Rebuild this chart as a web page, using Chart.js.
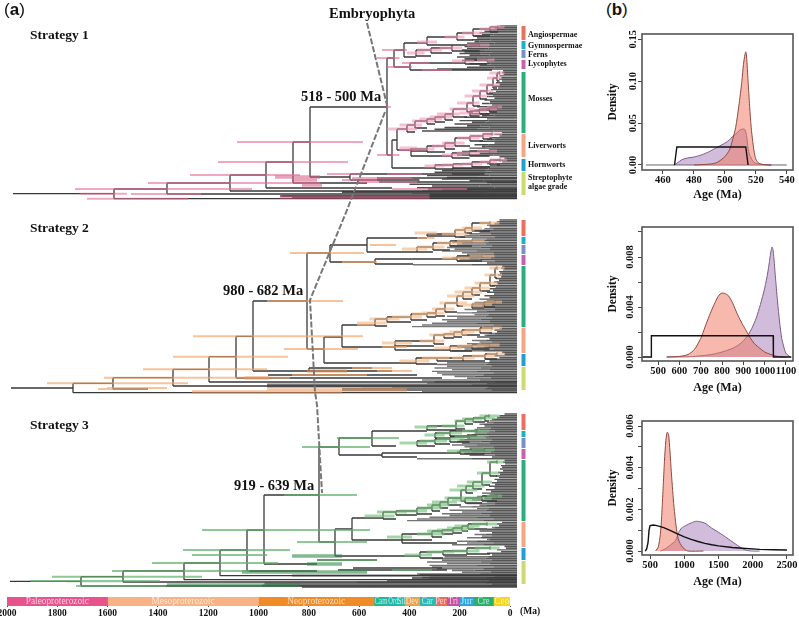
<!DOCTYPE html>
<html><head><meta charset="utf-8">
<script src="https://cdn.jsdelivr.net/npm/chart.js@4/dist/chart.umd.js"></script>
<style>
html,body{margin:0;padding:0;background:#fff;width:799px;height:617px;overflow:hidden}
canvas{position:absolute;display:block}
.t{position:absolute;font-family:"Liberation Serif",serif;font-weight:bold;color:#111;white-space:nowrap;line-height:1;transform:translateY(-50%)}
.p{font-family:"Liberation Sans",sans-serif;font-size:17px;font-weight:normal}
</style></head><body>
<canvas id="tree" style="left:0;top:0" width="600" height="617"></canvas>
<canvas id="geo" style="left:0;top:590px" width="540" height="27"></canvas>
<canvas id="d1" style="left:600px;top:20px" width="199" height="190"></canvas>
<canvas id="d2" style="left:600px;top:213px" width="199" height="190"></canvas>
<canvas id="d3" style="left:600px;top:407px" width="199" height="190"></canvas>
<div id="labels"></div>
<script>
// ---------- Geological time bar ----------
const geoNames=["Paleoproterozoic","Mesoproterozoic","Neoproterozoic","Cam","Ord","Sil","Dev","Car","Per","Tri","Jur","Cre","Ceo"];
const geoOld=[2000,1600,1000,541,485,444,419,359,299,252,201,145,66];
const geoYoung=[1600,1000,541,485,444,419,359,299,252,201,145,66,0];
const geoColors=["#E8538E","#F8B283","#F08C28","#22B69A","#1FB5A8","#2CBDA8","#E9A24E","#2DB7B5","#EA6C5C","#C8509F","#2BA4E0","#2BAF6C","#F5D328"];
const geoTextWidth=[63,63,58,13,10,8,13,11,11,10,12,12,15];
const geoTicks=[0,200,400,600,800,1000,1200,1400,1600,1800,2000];

// ---------- Tree tips: age (Ma) where each tip row's terminal branch begins ----------
const tips1=[70,90,110,130,150,140,170,160,180,170,200,190,210,200,220,210,230,190,240,210,220,120,190,150,200,320,
56,60,54,70,64,72,60,84,70,92,76,104,84,112,96,120,90,130,108,140,100,160,124,170,110,190,140,210,120,230,180,250,200,290,330,380,
60,90,70,110,120,150,90,170,140,190,110,220,150,240,
70,50,90,60,120,80,180,
260,300,330,260,360,280,300,190,120,430,340,400,300,380,420,350,500];
const tips2=[70,80,90,120,110,130,180,150,190,210,230,180,250,260,240,270,280,250,300,220,200,240,260,230,240,120,416,
60,64,56,72,68,76,64,84,72,92,78,100,86,110,96,120,92,130,110,150,120,170,140,180,130,210,160,240,170,280,240,300,280,340,380,420,
70,90,80,110,130,160,110,180,150,200,130,240,210,260,
60,50,90,70,130,110,280,
320,280,330,260,340,320,300,250,200,380,330,360,340,500,620,700];
const tips3=[50,70,80,100,110,120,150,130,160,170,190,170,200,210,200,230,240,220,260,210,190,220,240,210,190,100,400,
50,56,48,64,60,68,56,76,68,84,72,92,80,100,88,112,90,124,104,140,110,160,130,180,120,200,150,230,160,270,220,300,270,350,400,440,
60,80,72,100,120,150,100,170,140,200,120,240,200,260,
50,44,80,64,120,100,290,
340,300,360,280,350,340,320,260,220,400,350,380,350,520,640,720];
const tipFirstRow=[26,220,414];
// age at which a tip row turns from mid grey to dark grey
const tipShadeAges=[125,100,145,110,160,95,135,170,105,150,90,120,180,115];

// ---------- Backbone branches [row, older age, younger age] ----------
const branches1=[[193.7,2016,1612],[189,1612,1400],[198.7,1612,0],[183,1400,1148],[194,1400,0],[175,1148,1004],[191,1148,0],[162,1004,896],[188,1004,500],[142,896,828],[183,896,600],[107,828,520],[177,828,668],[174,668,444],[180,668,390],[174,444,130],[178,560,0],[182,552,0],[189,356,0],[196,948,0],[58,520,492],[155,520,500],[50,492,452],[67,492,428],[43,452,360],[57,452,404],[63,428,208],[70,428,320],[70,320,100],[140,500,480],[129,480,440],[150,480,424],[156,424,260],[168,500,328]];
const branches2=[[388,2024,1776],[383.3,1776,1616],[392.7,1776,0],[377.7,1616,1376],[389,1616,1476],[369.3,1376,1232],[386,1376,0],[356.7,1232,1124],[382,1232,416],[382,416,0],[336.3,1124,1056],[378,1124,700],[301,1056,840],[371,1056,832],[253,840,748],[349,840,772],[245,748,600],[262,748,568],[238,600,360],[252,600,400],[259,568,240],[264,568,416],[337,772,700],[363,772,404],[325,700,568],[347,700,488],[350,488,268],[368,832,580],[371,832,500],[375,996,400],[378,936,300]];
const branches3=[[581.3,2028,1744],[576.7,1744,1576],[586,1744,0],[571,1576,1332],[582,1576,0],[563,1332,1188],[579.7,1332,0],[550,1188,1080],[575.7,1188,0],[530,1080,1012],[571,1080,800],[495,1012,792],[564,1012,800],[447,792,712],[542,792,728],[438,712,580],[455,712,540],[431,580,360],[446,580,484],[453,540,228],[457,540,400],[529,728,660],[556,728,388],[518,660,536],[540,660,460],[543,460,240],[560,800,560],[568,656,300],[570,716,280],[575,390,0],[578,420,0]];

// ---------- Crowded basal bands [row, older age, younger age] ----------
const bands1=[[196,940,0],[198,900,0],[192,700,0]];
const bands2=[[384.5,1000,0],[386.5,1000,0],[389,700,0],[391,380,0]];
const bands3=[[583.5,1010,0],[585.5,1020,0],[587,860,0],[575.5,900,0]];

// ---------- Node connectors [age, top row, bottom row] ----------
const verts1=[[1612,189,198.7],[1400,183,194],[1148,175,191],[1004,162,188],[896,142,183],[828,107,177],[668,174,180],[520,58,155],[492,50,67],[452,43,57],[428,63,70],[500,140,168],[480,129,150],[424,148,156]];
const verts2=[[1776,383.3,392.7],[1616,377.7,389],[1376,369.3,386],[1232,356.7,382],[1124,336.3,378],[1056,301,371],[840,253,349],[748,245,262],[600,238,252],[568,259,264],[772,337,363],[700,325,347],[488,343,350],[832,368,371]];
const verts3=[[1744,576.7,586],[1576,571,582],[1332,563,579.7],[1188,550,575.7],[1080,530,571],[1012,495,564],[792,447,542],[712,438,455],[580,431,446],[540,453,457],[728,529,556],[660,518,540],[460,537,543]];

// ---------- Ladder clades, nodes as [age, row, HPD older, HPD younger] ----------
const ladders1=[
 [[360,42,400,320],[240,37,290,210],[176,33,220,140],[108,29,150,80],[76,27,110,50]],
 [[404,53,440,370],[344,50,400,300],[260,48,310,220],[150,45,200,110]],
 [[208,61,260,170],[120,60,160,90]],
 [[440,129,520,400],[408,125,470,380],[360,121,420,330],[328,119,390,300],[288,117,350,260],[256,114,320,230],[200,109,270,170],[176,103,240,150],[148,96,210,120],[120,91,180,95],[96,85,150,70],[80,78,120,60],[70,73,110,50]],
 [[188,113,230,150],[150,111,190,120],[110,109,150,80],[80,107,120,60]],
 [[424,148,470,400],[360,149,400,330],[288,146,340,250],[248,143,300,210],[188,138,240,150],[136,136,190,100],[100,134,140,60]],
 [[260,155,300,220],[190,153,240,150],[110,151,160,80]],
 [[328,166,370,290],[256,165,300,215],[180,164,220,140],[108,162,150,80],[68,160,110,40]]];
const ladders2=[
 [[360,233,410,320],[248,234,300,200],[208,230,250,170],[180,228,220,140],[108,223,150,70]],
 [[400,249,460,360],[336,247,400,290],[268,243,320,220],[180,241,240,130]],
 [[240,258,300,190],[140,256,190,90]],
 [[568,323,640,520],[520,319,590,470],[424,317,500,380],[360,314,420,320],[324,313,380,290],[288,309,340,250],[240,303,310,200],[216,296,280,170],[180,292,250,140],[148,288,210,110],[108,283,170,80],[88,275,130,60],[80,268,110,50]],
 [[180,305,230,140],[130,304,180,100],[88,302,130,60]],
 [[488,343,540,420],[332,341,390,290],[292,335,350,250],[252,334,300,200],[220,332,270,170],[148,330,210,100],[100,328,140,60]],
 [[268,348,330,220],[180,346,240,130],[110,345,160,70]],
 [[404,361,470,350],[320,358,380,270],[216,358,260,170],[128,356,180,90],[80,354,120,50]]];
const ladders3=[
 [[360,427,410,320],[244,426,300,210],[208,421,250,170],[176,419,220,140],[128,418,170,90],[112,416,150,70]],
 [[328,435,370,290],[268,433,320,220],[160,431,220,110]],
 [[400,443,470,360],[328,441,390,280],[268,439,320,210],[190,437,250,130]],
 [[228,451,280,180],[130,450,180,90]],
 [[536,516,610,490],[484,512,560,440],[400,511,470,360],[340,508,400,300],[308,505,360,270],[276,502,340,240],[224,498,290,180],[204,490,270,160],[176,486,240,130],[140,482,200,100],[108,473,160,70],[80,462,120,50]],
 [[208,500,260,160],[140,498,190,100],[80,496,120,60]],
 [[460,537,520,420],[340,534,400,290],[300,531,360,250],[256,530,320,200],[220,528,280,170],[196,526,250,150],[120,524,180,80]],
 [[388,555,450,340],[296,552,360,250],[200,551,260,150],[108,548,170,70]]];

// ---------- Divergence-time intervals [row, older, younger] ----------
const hpd1=[[193.7,1750,1560],[189,1768,1060],[183,1476,788],[194,1544,1264],[198.7,1720,1316],[175,1308,868],[142,1120,616],[162,1196,676],[107,525,505],[58,560,470],[155,560,470],[50,540,440],[67,520,420],[174,760,620],[180,700,560],[174,520,380],[178,660,420],[182,640,400],[189,500,200],[63,460,350],[70,380,260],[150,470,400]];
const hpdWide1=[[177,968,788],[180,900,800],[197,948,350],[185,860,780]];
const hpd2=[[388,1640,1400],[383.3,1880,1316],[389,1676,1476],[377.7,1652,908],[369.3,1496,1000],[356.7,1376,916],[336.3,1296,616],[301,1000,696],[253,908,612],[245,588,484],[349,932,636],[325,640,572],[262,700,560],[238,400,330],[368,660,500],[371,560,420],[375,900,600],[347,540,440]];
const hpdWide2=[[378,1090,990],[371,840,680],[392,1300,700],[390,1000,440]];
const hpd3=[[581.3,1800,1500],[576.7,1860,1260],[581,1948,1428],[586,1764,1404],[571,1620,1068],[563,1460,956],[550,1336,908],[530,1260,588],[495,932,640],[447,860,588],[438,720,472],[542,880,600],[555,1300,1000],[560,800,560],[570,500,340]];
const hpdWide3=[[564,840,700],[585,1400,870],[572,1100,600],[556,900,700]];

// ---------- Clade bars: names, [top, bottom] rows, colours ----------
const cladeNames=["Angiospermae","Gymnospermae","Ferns","Lycophytes","Mosses","Liverworts","Hornworts","Streptophyte algae grade"];
const cladeColors=["#EC6F60","#1DB1D0","#7B90C4","#C860B0","#2BAE7E","#F4A583","#1FA0D0","#C9DC70"];
const cladeRows1=[[26,40],[41,49],[50,58],[60,69],[72,133],[134,157],[159,171],[172,195]];
const cladeRows2=[[220,236],[237,244],[245,254],[255,265],[266,327],[328,353],[354,366],[367,390]];
const cladeRows3=[[414,430],[431,437],[438,448],[449,459],[460,521],[522,547],[548,560],[561,584]];

// ---------- Embryophyta dashed guide [age,row] ----------
const guideA=[[600,23],[520,105]];
const guideB=[[528,112],[680,210],[828,300],[808,392],[800,405],[780,493]];

// ---------- Density panels ----------
const p1RedAge=[480,490,495,500,503,505,507,509,511,512,513,513.5,514,515,516,517,518,519,520,522,525,530];
const p1Red=[0,.001,.003,.01,.018,.03,.045,.07,.1,.12,.132,.135,.13,.1,.07,.045,.028,.015,.007,.002,.0005,0];
const p1PurAge=[467,469,472,475,480,485,490,495,498,500,503,505,507,510,512,513,514,515,516,518,520,525,530];
const p1Pur=[0,.002,.006,.008,.0095,.012,.016,.021,.024,.026,.03,.034,.037,.042,.043,.042,.035,.02,.012,.005,.002,.0005,0];
const p1PriAge=[467.5,469,513.5,515];
const p1Pri=[0,.0215,.0215,0];
const p1BaseAge=[449,540];
const p1Base=[0,0];
const p1XTicks=[460,480,500,520,540];
const p1YTicks=[0,.05,.1,.15];

const p2RedAge=[540,600,640,670,700,720,740,760,780,795,810,830,850,870,890,910,930,950,970,1000,1030,1060,1100];
const p2Red=[0,.00005,.0002,.0006,.0015,.0024,.0033,.0041,.0048,.0051,.0051,.0049,.0043,.0035,.0028,.0022,.0016,.0011,.0008,.0004,.0002,.00005,0];
const p2PurAge=[540,650,700,750,800,850,880,900,920,940,960,980,1000,1015,1030,1035,1040,1050,1060,1070,1080,1090,1100,1120];
const p2Pur=[0,.00002,.0001,.0002,.0004,.0007,.001,.0013,.0017,.0023,.0031,.0042,.0055,.0068,.0085,.0088,.0085,.0065,.0045,.0028,.0015,.0008,.0003,0];
const p2PriAge=[425,467,467,469,1040,1040,1042,1125];
const p2Pri=[0,0,.0007,.0017,.0017,.0001,0,0];
const p2XTicks=[500,600,700,800,900,1000,1100];
const p2YTicks=[0,.002,.004,.006,.008,.01];

const p3RedAge=[580,620,650,670,690,710,730,750,770,790,810,830,850,880,910,950,1000,1050,1280];
const p3Red=[0,.0002,.0008,.0017,.003,.0043,.0053,.0057,.0056,.0048,.0038,.0029,.0021,.0012,.0006,.0003,.0001,0,0];
const p3PurAge=[650,720,800,870,920,960,1020,1100,1180,1300,1400,1500,1600,1700,1800,1900,2000,2100];
const p3Pur=[0,.0001,.0003,.0005,.0009,.0011,.00122,.00135,.00143,.00134,.0011,.0009,.00068,.00045,.00022,.00004,0,0];
const p3PriAge=[430,450,470,485,500,550,600,700,800,900,1000,1100,1200,1300,1400,1500,1700,1900,2100,2300,2500];
const p3Pri=[0,.0001,.0004,.001,.00122,.00125,.00122,.00112,.00098,.00082,.00068,.00056,.00046,.00037,.0003,.00025,.00017,.00012,.00008,.00006,.00005];
const p3XTicks=[500,1000,1500,2000,2500];
const p3YTicks=[0,.001,.002,.003,.004,.005,.006];

// ---------- Drawing helpers ----------
const SERIF='"Liberation Serif",serif';
Chart.defaults.animation=false;
Chart.defaults.responsive=false;
Chart.defaults.font.family=SERIF;
Chart.defaults.font.weight='bold';
Chart.defaults.color='#111';
Chart.defaults.plugins.legend.display=false;
Chart.defaults.plugins.tooltip.enabled=false;

function hseg(list,segs){segs.forEach(s=>{list.push({x:s[1],y:s[0]},{x:s[2],y:s[0]},{x:null,y:null});});return list;}
function vseg(list,segs){segs.forEach(s=>{list.push({x:s[0],y:s[1]},{x:s[0],y:s[2]},{x:null,y:null});});return list;}
function lineDs(data,color,width,extra){return Object.assign({data,borderColor:color,borderWidth:width,showLine:true,pointRadius:0,spanGaps:false,fill:false},extra||{});}

const treeSpec=[
 {tips:tips1,first:tipFirstRow[0],br:branches1,ba:bands1,ve:verts1,la:ladders1,hp:hpd1,hw:hpdWide1,cl:cladeRows1,col:'rgba(228,110,150,.6)',wide:'rgba(214,90,130,.55)',pale:'rgba(240,150,180,.6)',old:'#4e4e4e'},
 {tips:tips2,first:tipFirstRow[1],br:branches2,ba:bands2,ve:verts2,la:ladders2,hp:hpd2,hw:hpdWide2,cl:cladeRows2,col:'rgba(240,165,105,.65)',wide:'rgba(235,150,90,.55)',pale:'rgba(245,185,135,.65)',old:'#787878'},
 {tips:tips3,first:tipFirstRow[2],br:branches3,ba:bands3,ve:verts3,la:ladders3,hp:hpd3,hw:hpdWide3,cl:cladeRows3,col:'rgba(95,175,105,.7)',wide:'rgba(50,140,75,.6)',pale:'rgba(120,190,125,.65)',old:'#747474'}];

const treeSets=[];
treeSpec.forEach(t=>{
  const dark=[],old=[],lines=[],pale=[];
  t.tips.forEach((a,i)=>{
    const r=t.first+i*1.72;
    const shade=tipShadeAges[i%tipShadeAges.length];
    if(a>shade){old.push({x:a,y:r},{x:shade,y:r},{x:null,y:null});}
    dark.push({x:Math.min(a,shade),y:r},{x:0,y:r},{x:null,y:null});
  });
  hseg(lines,t.br);vseg(lines,t.ve);
  t.la.forEach(l=>{
    l.forEach((n,i)=>{
      const nx=l[i+1];
      if(nx){
        vseg(lines,[[n[0],nx[1],n[1]+3]]);
        hseg(lines,[[nx[1],n[0],nx[0]],[n[1]+3,n[0],nx[0]]]);
      }else{
        vseg(lines,[[n[0],n[1]-1.5,n[1]+1.5]]);
      }
      hseg(pale,[[n[1],n[2],n[3]]]);
    });
  });
  treeSets.push(lineDs(pale,t.pale,2.8,{order:1}));
  treeSets.push(lineDs(hseg([],t.hp),t.col,2,{order:1}));
  treeSets.push(lineDs(hseg([],t.hw),t.wide,3.5,{order:1}));
  treeSets.push(lineDs(lines,'#383838',1.3,{order:3}));
  treeSets.push(lineDs(dark,'#565656',1.45,{order:4}));
  treeSets.push(lineDs(old,t.old,1.45,{order:4}));
  treeSets.push(lineDs(hseg([],t.ba),t.old,2,{order:4}));
  t.cl.forEach((c,i)=>{
    treeSets.push(lineDs(vseg([],[[-26,c[0],c[1]]]),cladeColors[i],4,{order:5,borderCapStyle:'butt'}));
  });
});
[guideA,guideB].forEach(g=>{
  treeSets.push(lineDs(g.map(p=>({x:p[0],y:p[1]})),'#777777',2,{order:0,borderDash:[6,2]}));
});

new Chart(document.getElementById('tree'),{type:'scatter',
  data:{datasets:treeSets},
  options:{layout:{padding:0,autoPadding:false},
   scales:{x:{type:'linear',display:false,reverse:true,min:-332,max:2068},
           y:{type:'linear',display:false,reverse:true,min:0,max:617}}}});

// Geological bar
const geoLabels={id:'geoLabels',afterDatasetsDraw(c){
  const ctx=c.ctx,x=c.scales.x,a=c.chartArea;
  ctx.save();ctx.textAlign='center';ctx.textBaseline='middle';
  geoNames.forEach((n,i)=>{
    ctx.font='normal 11px '+SERIF;
    ctx.fillStyle='rgba(255,255,255,.72)';
    ctx.fillText(n,(x.getPixelForValue(geoOld[i])+x.getPixelForValue(geoYoung[i]))/2,(a.top+a.bottom)/2,geoTextWidth[i]);
  });
  ctx.restore();
}};
new Chart(document.getElementById('geo'),{type:'bar',
  data:{labels:['Age'],datasets:geoNames.map((n,i)=>({label:n,data:[[geoYoung[i],geoOld[i]]],backgroundColor:geoColors[i],borderWidth:0,barPercentage:1,categoryPercentage:1,grouped:false}))},
  options:{indexAxis:'y',layout:{padding:{left:7,right:30,top:7,bottom:0},autoPadding:false},
   scales:{
    y:{display:false,stacked:false},
    x:{type:'linear',reverse:true,min:0,max:2000,position:'bottom',
       afterFit:s=>{s.height=11;},
       afterBuildTicks:s=>{s.ticks=geoTicks.map(value=>({value}));},
       border:{display:false},
       grid:{drawOnChartArea:false,tickLength:1,color:'#444'},
       ticks:{padding:1,maxRotation:0,autoSkip:false,font:{size:9.5,weight:'bold'},color:'#111',callback:v=>String(v)}}},
  },plugins:[geoLabels]});

// Density panels
const boxPlugin={id:'box',afterDraw(c){const a=c.chartArea,ctx=c.ctx;ctx.save();ctx.strokeStyle='#555';ctx.lineWidth=1.6;ctx.strokeRect(a.left,a.top,a.right-a.left,a.bottom-a.top);ctx.restore();}};
function pts(xs,ys){return xs.map((x,i)=>({x,y:ys[i]}));}
function density(id,o){
  const ax={drawOnChartArea:false,tickLength:4,color:'#444',lineWidth:1};
  const sets=[
     lineDs(pts(o.priA,o.pri),'#111',1.4,{order:0}),
     lineDs(pts(o.redA,o.red),'#8c4a40',1,{order:1,fill:'origin',backgroundColor:'rgba(240,118,98,.52)',tension:.25}),
     lineDs(pts(o.purA,o.pur),'#7b5b85',1,{order:2,fill:'origin',backgroundColor:'rgba(150,105,172,.44)',tension:.25})];
  if(o.baseA)sets.push(lineDs(pts(o.baseA,o.base),'#666',1,{order:3}));
  new Chart(document.getElementById(id),{type:'scatter',
   data:{datasets:sets},
   options:{layout:{padding:{left:6,right:6,top:o.top,bottom:8},autoPadding:false},
    scales:{
     x:{type:'linear',min:o.xmin,max:o.xmax,afterFit:s=>{s.height=o.bh;},
        afterBuildTicks:s=>{s.ticks=o.xt.map(value=>({value}));},
        border:{display:false},grid:ax,
        title:{display:true,text:'Age (Ma)',padding:0,font:{size:12,weight:'bold'}},
        ticks:{padding:0,maxRotation:0,autoSkip:false,font:{size:10.5,weight:'bold'},callback:v=>String(v)}},
     y:{type:'linear',min:o.ymin,max:o.ymax,afterFit:s=>{s.width=36;},
        afterBuildTicks:s=>{s.ticks=o.yt.map(value=>({value}));},
        border:{display:false},grid:ax,
        title:{display:true,text:'Density',padding:0,font:{size:11.5,weight:'bold'}},
        ticks:{crossAlign:'center',padding:-4,minRotation:90,maxRotation:90,autoSkip:false,font:{size:10.5,weight:'bold'},
          callback:(v,i)=>i%o.every===0?v.toFixed(o.dec):''}}}
   },plugins:[boxPlugin]});
}
density('d1',{top:14,bh:32,xmin:446.5,xmax:544,xt:p1XTicks,ymin:-.006,ymax:.1563,yt:p1YTicks,every:1,dec:2,redA:p1RedAge,red:p1Red,purA:p1PurAge,pur:p1Pur,priA:p1PriAge,pri:p1Pri,baseA:p1BaseAge,base:p1Base});
density('d2',{top:14,bh:34,xmin:424,xmax:1133,xt:p2XTicks,ymin:-.00032,ymax:.0104,yt:p2YTicks,every:2,dec:3,redA:p2RedAge,red:p2Red,purA:p2PurAge,pur:p2Pur,priA:p2PriAge,pri:p2Pri});
density('d3',{top:14,bh:34,xmin:382,xmax:2588,xt:p3XTicks,ymin:-.00019,ymax:.00624,yt:p3YTicks,every:2,dec:3,redA:p3RedAge,red:p3Red,purA:p3PurAge,pur:p3Pur,priA:p3PriAge,pri:p3Pri});

// Text labels
const textItems=[
 ["Embryophyta",329,13,14.5],["Strategy 1",30,35,13.5],["Strategy 2",30,228,13.5],["Strategy 3",30,425,13.5],
 ["518 - 500 Ma",301,96,14.5],["980 - 682 Ma",223,290,14.5],["919 - 639 Ma",234,485,14.5],
 ["Angiospermae",528,35,8],["Gymnospermae",528,46,8],["Ferns",528,55,8],["Lycophytes",528,64,8],
 ["Mosses",528,99,8],["Liverworts",528,146,8],["Hornworts",528,165,8],["Streptophyte",528,178,8],["algae grade",528,187,8],
 ["(Ma)",520,612,9.5]];
const host=document.getElementById('labels');
textItems.forEach(t=>{const d=document.createElement('div');d.className='t';d.textContent=t[0];d.style.left=t[1]+'px';d.style.top=t[2]+'px';d.style.fontSize=t[3]+'px';host.appendChild(d);});
[["a",4,9],["b",606,9]].forEach(t=>{const d=document.createElement('div');d.className='t p';d.innerHTML='(<b>'+t[0]+'</b>)';d.style.left=t[1]+'px';d.style.top=t[2]+'px';host.appendChild(d);});
</script>
</body></html>
